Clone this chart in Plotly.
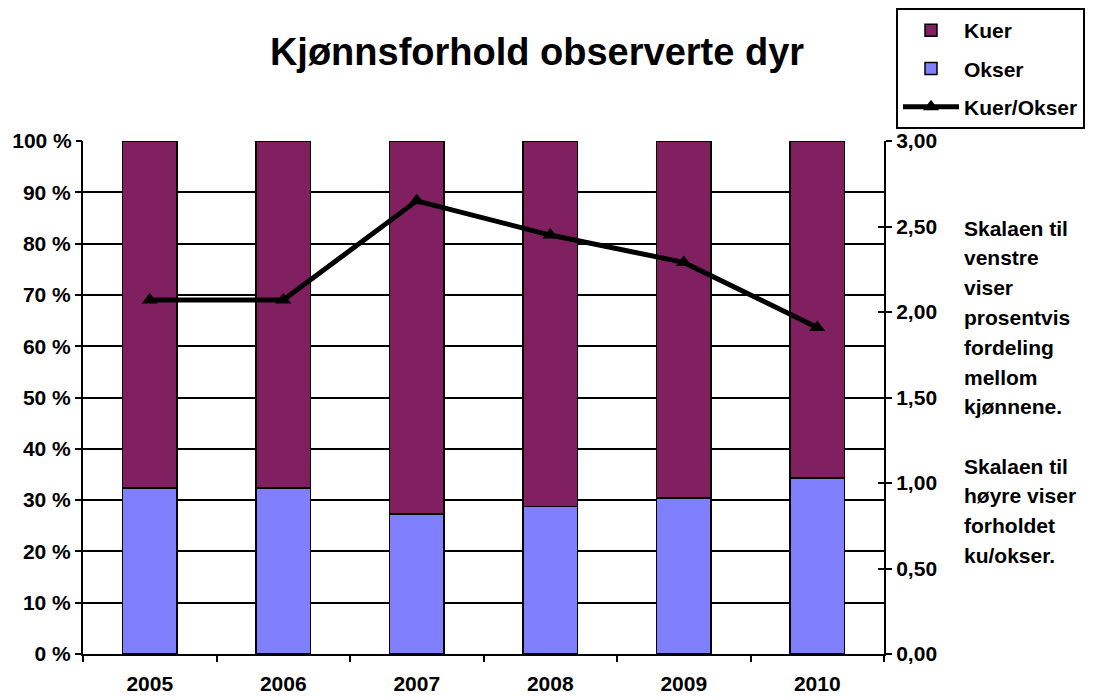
import plotly.graph_objects as go

years = ["2005", "2006", "2007", "2008", "2009", "2010"]
okser_pct = [32.4, 32.4, 27.3, 28.8, 30.4, 34.3]
kuer_pct = [100 - v for v in okser_pct]
ratio = [2.07, 2.07, 2.65, 2.45, 2.29, 1.91]

left_ticks = [0, 10, 20, 30, 40, 50, 60, 70, 80, 90]
top_tick = [100]
right_ticks = [0, 0.5, 1.0, 1.5, 2.0, 2.5, 3.0]

note1 = ["Skalaen til", "venstre", "viser", "prosentvis", "fordeling", "mellom", "kjønnene."]
note2 = ["Skalaen til", "høyre viser", "forholdet", "ku/okser."]

FONT = "Liberation Sans, Arial, sans-serif"
TF = dict(family=FONT, size=21, color="black", weight="bold")

W, H = 1086, 690
L, R, T, B = 75, 876, 133, 646

fig = go.Figure()
fig.add_trace(go.Bar(x=years, y=okser_pct, name="Okser", marker=dict(color="#8080FF", line=dict(color="black", width=1.5)),
                     width=0.41, legendrank=2, legendgroup="b"))
fig.add_trace(go.Bar(x=years, y=kuer_pct, name="Kuer", marker=dict(color="#802060", line=dict(color="black", width=1.5)),
                     width=0.41, legendrank=1, legendgroup="a"))
fig.add_trace(go.Scatter(x=years, y=ratio, name="Kuer/Okser", yaxis="y2", mode="lines+markers",
                         line=dict(color="black", width=5), marker=dict(symbol="triangle-up", size=14, color="black"),
                         legendrank=3, legendgroup="c"))
# helper (invisible) traces so the extra tick-only axes are drawn
fig.add_trace(go.Scatter(x=years, y=ratio, yaxis="y3", mode="none", showlegend=False, hoverinfo="skip"))
fig.add_trace(go.Scatter(x=years, y=okser_pct, yaxis="y4", mode="none", showlegend=False, hoverinfo="skip"))

annotations = []
def py(ypx):
    return (B - ypx) / (B - T)
xnote = (954 - L) / (R - L)
for i, t in enumerate(note1):
    annotations.append(dict(text=t, xref="paper", yref="paper", x=xnote, y=py(220 + i * 29.8),
                            xanchor="left", yanchor="middle", showarrow=False, font=TF))
for i, t in enumerate(note2):
    annotations.append(dict(text=t, xref="paper", yref="paper", x=xnote, y=py(458 + i * 29.8),
                            xanchor="left", yanchor="middle", showarrow=False, font=TF))

axcommon = dict(linecolor="black", linewidth=2, ticklen=6, tickwidth=2, tickcolor="black",
                zeroline=False, tickfont=TF, automargin=False)

fig.update_layout(
    width=W, height=H,
    margin=dict(l=L, r=W - R, t=T, b=H - B, autoexpand=False),
    paper_bgcolor="white", plot_bgcolor="white",
    barmode="stack", bargap=0.59,
    font=dict(family=FONT, size=21, color="black"),
    title=dict(text="Kjønnsforhold observerte dyr", x=529 / W, xref="container", xanchor="center",
               y=1 - 44 / H, yref="container", yanchor="middle",
               font=dict(family=FONT, size=38, color="black", weight="bold")),
    legend=dict(x=888 / W, y=1 - 0 / H, xref="container", yref="container", xanchor="left", yanchor="top",
                traceorder="grouped", bgcolor="white", bordercolor="black", borderwidth=2,
                font=TF, tracegroupgap=8, itemwidth=56),
    xaxis=dict(type="category", showline=True, ticks="outside", tickson="boundaries", showgrid=False,
               ticklabelstandoff=10, **axcommon),
    yaxis=dict(range=[0, 100], tickvals=left_ticks, ticktext=["%d %%" % v for v in left_ticks],
               showline=True, ticks="outside", showgrid=True, gridcolor="black", gridwidth=2, **axcommon),
    yaxis4=dict(range=[0, 100], overlaying="y", side="left", tickvals=top_tick,
                ticktext=["%d %%" % v for v in top_tick], showline=False, ticks="outside", showgrid=False,
                **axcommon),
    yaxis2=dict(range=[0, 3], overlaying="y", side="right", tickvals=right_ticks,
                ticktext=[("%.2f" % v).replace(".", ",") for v in right_ticks],
                showline=True, ticks="outside", showgrid=False, **axcommon),
    yaxis3=dict(range=[0, 3], overlaying="y", side="right", tickvals=right_ticks, showticklabels=False,
                showline=False, ticks="inside", showgrid=False, **axcommon),
    annotations=annotations,
)

fig.write_html("out.html")
